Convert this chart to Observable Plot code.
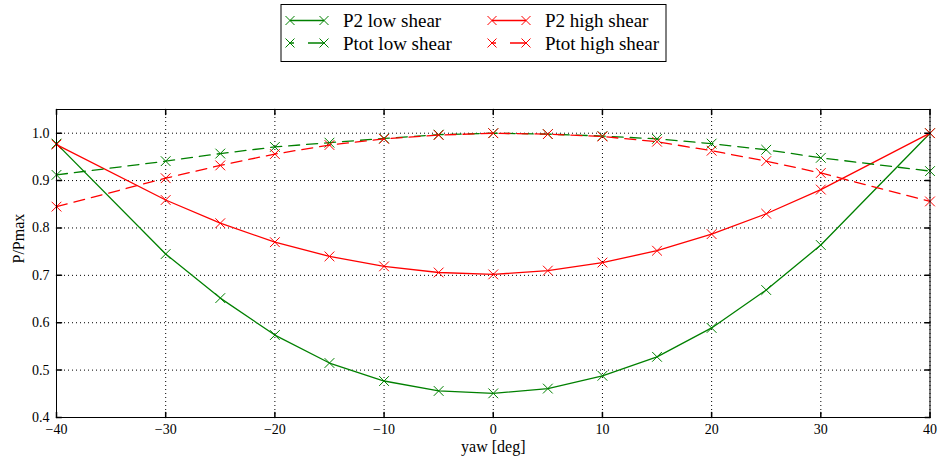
<!DOCTYPE html>
<html>
<head>
<meta charset="utf-8">
<script src="https://cdn.jsdelivr.net/npm/d3@7"></script>
<script src="https://cdn.jsdelivr.net/npm/@observablehq/plot@0.6"></script>
<style>
  html, body { margin: 0; padding: 0; background: white; }
  #wrap { position: relative; width: 941px; height: 464px; font-family: "Liberation Serif", "DejaVu Serif", serif; }
  #legend { position: absolute; left: 0; top: 0; }
</style>
</head>
<body>
<div id="wrap"><svg id="legend" width="941" height="70"></svg></div>
<script>
// ---- data ----
const yaw = [-40, -30, -25, -20, -15, -10, -5, 0, 5, 10, 15, 20, 25, 30, 40];
const seriesNames = ["P2 low shear", "P2 high shear", "Ptot low shear", "Ptot high shear"];
const p2Low    = [0.978, 0.745, 0.652, 0.574, 0.515, 0.477, 0.456, 0.451, 0.461, 0.488, 0.528, 0.589, 0.669, 0.764, 1.000];
const p2High   = [0.976, 0.859, 0.810, 0.770, 0.740, 0.719, 0.706, 0.702, 0.710, 0.727, 0.752, 0.787, 0.830, 0.881, 1.000];
const ptotLow  = [0.912, 0.941, 0.957, 0.971, 0.980, 0.989, 0.997, 1.000, 0.998, 0.994, 0.988, 0.978, 0.965, 0.948, 0.920];
const ptotHigh = [0.845, 0.905, 0.932, 0.956, 0.975, 0.988, 0.996, 1.000, 0.998, 0.993, 0.982, 0.963, 0.941, 0.916, 0.856];
const xTicks = [-40, -30, -20, -10, 0, 10, 20, 30, 40];
const yTicks = [0.4, 0.5, 0.6, 0.7, 0.8, 0.9, 1.0];

// ---- styles ----
const FONT = "'Liberation Serif', 'DejaVu Serif', serif";
const seriesValues = [p2Low, p2High, ptotLow, ptotHigh];
const seriesColor = ["#008000", "#ff0000", "#008000", "#ff0000"];
const seriesDash = [null, null, "11,7", "11,7"];

const data = [];
seriesNames.forEach((name, i) => {
  seriesValues[i].forEach((v, j) => data.push({series: name, yaw: yaw[j], p: v}));
});

const tickShape = {draw(context, l) { context.moveTo(0, 0); context.lineTo(0, -l); }};
const tickLen = 5;

const marks = [
  Plot.gridX(xTicks, {stroke: "black", strokeOpacity: 1, strokeWidth: 1, strokeDasharray: "1,3"}),
  Plot.gridY(yTicks, {stroke: "black", strokeOpacity: 1, strokeWidth: 1, strokeDasharray: "1,3"}),
];
seriesNames.forEach((name, i) => {
  const d = data.filter(r => r.series === name);
  marks.push(Plot.line(d, {x: "yaw", y: "p", stroke: seriesColor[i], strokeWidth: 1.3, strokeDasharray: seriesDash[i]}));
  marks.push(Plot.dot(d, {x: "yaw", y: "p", symbol: "times", r: 4.5, stroke: seriesColor[i], strokeWidth: 1}));
});
marks.push(
  Plot.vector(xTicks, {x: d => d, frameAnchor: "bottom", length: tickLen, rotate: 0, anchor: "start", shape: tickShape, stroke: "black"}),
  Plot.vector(xTicks, {x: d => d, frameAnchor: "top", length: tickLen, rotate: 180, anchor: "start", shape: tickShape, stroke: "black"}),
  Plot.vector(yTicks, {y: d => d, frameAnchor: "left", length: tickLen, rotate: 90, anchor: "start", shape: tickShape, stroke: "black"}),
  Plot.vector(yTicks, {y: d => d, frameAnchor: "right", length: tickLen, rotate: -90, anchor: "start", shape: tickShape, stroke: "black"}),
  Plot.frame({stroke: "black", strokeWidth: 1}),
  Plot.axisX(xTicks, {anchor: "bottom", tickSize: 0, tickPadding: 7, label: null, fontSize: 14, fontFamily: FONT}),
  Plot.axisY(yTicks, {anchor: "left", tickSize: 0, tickPadding: 7, label: null, tickFormat: d3.format(".1f"), fontSize: 14, fontFamily: FONT}),
  Plot.text(["yaw [deg]"], {frameAnchor: "bottom", dy: 34, fontSize: 16, fill: "black", fontFamily: FONT}),
  Plot.text(["P/Pmax"], {frameAnchor: "left", dx: -38, rotate: -90, fontSize: 16, fill: "black", fontFamily: FONT})
);

const chart = Plot.plot({
  width: 941, height: 464,
  marginLeft: 56, marginRight: 11.5, marginTop: 109, marginBottom: 47,
  style: {fontFamily: FONT, fontSize: "14px", color: "black", background: "white"},
  x: {domain: [-40, 40]},
  y: {domain: [0.4, 1.05]},
  marks
});
document.getElementById("wrap").insertBefore(chart, document.getElementById("legend"));

// ---- legend ----
const lg = d3.select("#legend");
lg.append("rect").attr("x", 281).attr("y", 4.5).attr("width", 385).attr("height", 57)
  .attr("fill", "white").attr("stroke", "black").attr("stroke-width", 1);
const legendOrder = [0, 2, 1, 3]; // column-major order of matplotlib legend
const colX = [290, 492];
const rowY = [20.5, 43];
legendOrder.forEach((si, k) => {
  const col = Math.floor(k / 2), row = k % 2;
  const x0 = colX[col], y0 = rowY[row], x1 = x0 + 34;
  const g = lg.append("g");
  g.append("line").attr("x1", x0).attr("x2", x1).attr("y1", y0).attr("y2", y0)
    .attr("stroke", seriesColor[si]).attr("stroke-width", 1.3)
    .attr("stroke-dasharray", seriesDash[si] ? "4,14,16,100" : null);
  [x0, x1].forEach(cx => {
    g.append("path").attr("d", `M${cx-4.5},${y0-4.5}L${cx+4.5},${y0+4.5}M${cx-4.5},${y0+4.5}L${cx+4.5},${y0-4.5}`)
      .attr("stroke", seriesColor[si]).attr("stroke-width", 1);
  });
  g.append("text").attr("x", x0 + 53).attr("y", y0).attr("dy", "0.35em")
    .attr("font-size", 19).attr("font-family", FONT)
    .attr("fill", "black").text(seriesNames[si]);
});
</script>
</body>
</html>
